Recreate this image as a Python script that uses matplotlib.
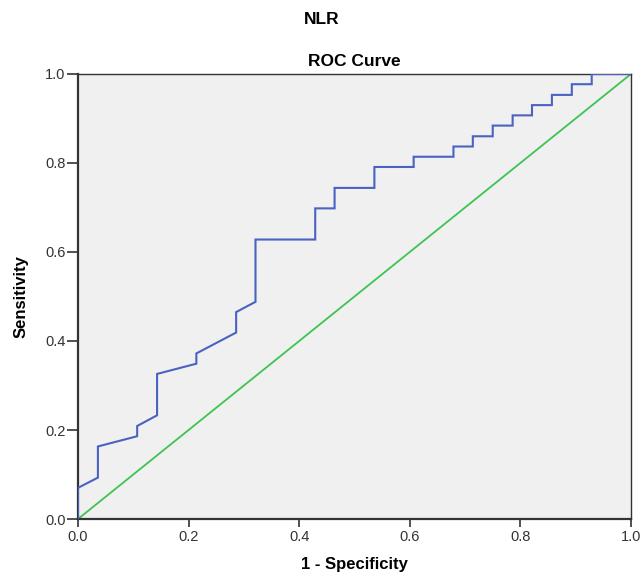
import matplotlib
matplotlib.use("Agg")
import matplotlib.pyplot as plt

plt.rcParams["font.family"] = ["Liberation Sans", "DejaVu Sans"]

# Puntos de la curva ROC (1 - especificidad, sensibilidad)
fpr = [0.0, 0.0, 0.036, 0.036, 0.107, 0.107, 0.143, 0.143, 0.214, 0.214,
       0.286, 0.286, 0.321, 0.321, 0.429, 0.429, 0.464, 0.464, 0.536, 0.536,
       0.607, 0.607, 0.679, 0.679, 0.714, 0.714, 0.750, 0.750, 0.786, 0.786,
       0.821, 0.821, 0.857, 0.857, 0.893, 0.893, 0.929, 0.929, 1.0]
tpr = [0.0, 0.070, 0.093, 0.163, 0.186, 0.209, 0.233, 0.326, 0.349, 0.372,
       0.419, 0.465, 0.488, 0.628, 0.628, 0.698, 0.698, 0.744, 0.744, 0.791,
       0.791, 0.814, 0.814, 0.837, 0.837, 0.860, 0.860, 0.884, 0.884, 0.907,
       0.907, 0.930, 0.930, 0.953, 0.953, 0.977, 0.977, 1.0, 1.0]

# Linea de referencia
ref = [0.0, 1.0]
ticks = [0.0, 0.2, 0.4, 0.6, 0.8, 1.0]

fig = plt.figure(figsize=(6.43, 5.77), dpi=100)
ax = fig.add_axes([0.1213, 0.1005, 0.86, 0.7713])
ax.set_facecolor("#f0f0f0")

ax.plot(fpr, tpr, color="#4a62c0", linewidth=1.5, solid_joinstyle="miter", zorder=3)
ax.plot(ref, ref, color="#3cc451", linewidth=1.3, zorder=2)

ax.set_xlim(0, 1)
ax.set_ylim(0, 1)
ax.set_xticks(ticks)
ax.set_yticks(ticks)
ax.set_xticklabels([f"{t:.1f}" for t in ticks], fontsize=10.5, color="#333333")
ax.set_yticklabels([f"{t:.1f}" for t in ticks], fontsize=10.5, color="#333333")
ax.tick_params(axis="y", direction="out", length=8, width=1.2, color="#333333", pad=1)
ax.tick_params(axis="x", direction="out", length=6, width=1.2, color="#333333", pad=2)

for lado in ["left", "bottom"]:
    ax.spines[lado].set_linewidth(1.6)
    ax.spines[lado].set_color("#333333")
for lado in ["top", "right"]:
    ax.spines[lado].set_linewidth(1.0)
    ax.spines[lado].set_color("#333333")

ax.set_xlabel("1 - Specificity", fontsize=12, fontweight="bold", labelpad=9)
ax.set_ylabel("Sensitivity", fontsize=12, fontweight="bold", labelpad=12)
ax.set_title("ROC Curve", fontsize=12.5, fontweight="bold", pad=6)
fig.text(0.5, 0.9655, "NLR", ha="center", va="center", fontsize=12.5, fontweight="bold")

fig.savefig("out.png", dpi=100)
